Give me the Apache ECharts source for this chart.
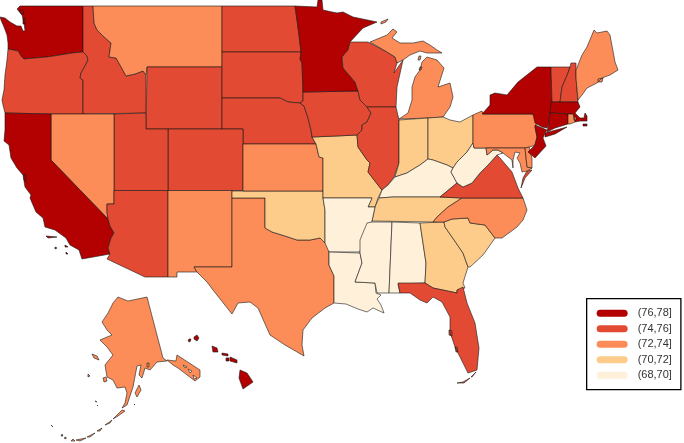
<!DOCTYPE html>
<html><head><meta charset="utf-8">
<style>html,body{margin:0;padding:0;background:#fff}#c{width:684px;height:443px}</style>
<script src="https://cdn.jsdelivr.net/npm/echarts@6/dist/echarts.min.js"></script>
</head><body><div id="c"></div>
<script>
// Chart values: each state's value is the midpoint of the bin its colour shows
const bin76to78 = ['Washington','California','Minnesota','New York','New Jersey','Massachusetts','Connecticut','Hawaii'];
const bin74to76 = ['Oregon','Idaho','Wyoming','Utah','Colorado','Arizona','North Dakota','South Dakota','Nebraska','Iowa','Wisconsin','Illinois','Virginia','Vermont','New Hampshire','Florida'];
const bin72to74 = ['Montana','Nevada','New Mexico','Texas','Kansas','Michigan','Pennsylvania','Maryland','Delaware','North Carolina','Maine','Rhode Island','Alaska'];
const bin70to72 = ['Missouri','Oklahoma','Indiana','Ohio','Georgia','South Carolina','Tennessee'];
const bin68to70 = ['Arkansas','Louisiana','Mississippi','Alabama','Kentucky','West Virginia'];
const binValues = [77, 75, 73, 71, 69];
const binLabels = ['(76,78]','(74,76]','(72,74]','(70,72]','(68,70]'];
const binMins = [76, 74, 72, 70, 68];
const binMaxs = [78, 76, 74, 72, 70];
const binColors = ['#b30000','#e34a33','#fc8d59','#fdcc8a','#fef0d9'];

// Map geometry (outline rings of each state), in the picture's own plane
const shapes = {
Washington:[[[20,6],[83,6],[83,52],[72,53],[60,55],[47,57],[35,58],[24,59],[21,56],[18,51],[8,49],[8,43],[7,35],[4,27],[1,20],[0,17],[5,18],[10,22],[17,26],[21,26],[23,31],[25,31],[24,22],[22,15],[17,9]],[[19,10],[23,10],[24,14],[21,14]],[[23,18],[25,18],[25,24],[23,24]]],
Oregon:[[[8,49],[18,51],[21,56],[24,59],[35,58],[47,57],[60,55],[72,53],[83,52],[87,56],[88,60],[85,66],[81,73],[80,78],[83,80],[83,114],[50,114],[5,113],[3,105],[2,100],[4,90],[5,75],[7,60]]],
Idaho:[[[83,6],[93,6],[94,23],[97,30],[103,36],[111,43],[109,57],[116,58],[120,65],[126,76],[135,74],[143,71],[146,75],[146,113],[83,114],[83,80],[80,78],[81,73],[85,66],[88,60],[87,56],[83,52]]],
Montana:[[[93,6],[222,6],[222,67],[147,67],[146,75],[143,71],[135,74],[126,76],[120,65],[116,58],[109,57],[111,43],[103,36],[97,30],[94,23]]],
Wyoming:[[[147,67],[222,67],[222,129],[146,129]]],
'North Dakota':[[[222,6],[295,6],[297,20],[299,35],[301,52],[222,52]]],
'South Dakota':[[[222,52],[301,52],[300,59],[302,63],[303,92],[303,101],[300,103],[288,102],[280,98],[222,98]]],
Nebraska:[[[222,98],[280,98],[288,102],[300,103],[304,106],[308,118],[311,130],[312,137],[316,144],[243,144],[243,129],[222,129]]],
Colorado:[[[168,129],[243,129],[243,190.5],[168,190.5]]],
Utah:[[[114,114],[146,113],[146,129],[168,129],[168,190.5],[114,190.5]]],
Nevada:[[[51,114],[114,114],[114,204],[107,204],[107,212],[108,219],[51,160]]],
California:[[[5,113],[51,114],[51,160],[108,219],[110,226],[114,233],[111,238],[108,248],[110,254],[82,259],[79,250],[70,245],[66,238],[55,230],[45,227],[43,218],[36,212],[30,198],[31,195],[25,187],[23,175],[17,168],[11,158],[9,145],[4,141],[5,130]],[[46,236],[57,237],[48,238]],[[55,247],[57,248],[55,249]],[[65,245],[68,247],[65,247]],[[66,252],[68,254],[66,254]],[[24,174],[26,175],[26,182],[24,180]]],
Arizona:[[[114,190.5],[168,190.5],[168,277],[145,277],[107,259],[110,254],[108,248],[111,238],[114,233],[110,226],[108,219],[107,212],[107,204],[114,204]]],
'New Mexico':[[[168,190.5],[232,190.5],[232,267],[194,267],[197,272],[177,272],[177,277],[168,277]]],
Texas:[[[232,198],[265,198],[265,228],[272,232],[285,236],[297,240],[310,240],[320,238],[329,243],[329,252],[329,265],[334,276],[334,290],[334,303],[325,308],[312,318],[303,330],[302,345],[304,356],[285,345],[270,335],[258,308],[250,302],[238,303],[232,314],[213,290],[207,282],[197,272],[194,267],[232,267]]],
Oklahoma:[[[232,191],[323,191],[323,198],[325,210],[325,243],[320,238],[310,240],[297,240],[285,236],[272,232],[265,228],[265,198],[232,198]]],
Kansas:[[[243,144],[316,144],[317,148],[319,157],[323,158],[323,191],[243,191]]],
Missouri:[[[312,137],[336,136],[357,135],[358,147],[367,160],[370,163],[368,172],[378,185],[382,190],[378,198],[375,207],[368,207],[372,198],[323,198],[323,158],[319,157],[317,148],[316,144]]],
Iowa:[[[303,92],[358,91],[360,100],[367,107],[371,113],[367,122],[362,125],[362,130],[357,135],[336,136],[312,137],[311,130],[308,118],[304,106],[300,103],[303,101]]],
Minnesota:[[[295,6],[317,7],[318,0],[322,0],[323,10],[332,12],[337,13],[343,12],[353,17],[377,22],[363,28],[350,42],[348,50],[342,57],[343,68],[355,82],[358,91],[303,92],[302,63],[300,59],[301,52],[299,35],[297,20]]],
Wisconsin:[[[350,42],[363,42],[368,42],[387,52],[395,57],[397,63],[394,73],[403,60],[397,87],[396,107],[367,107],[360,100],[358,91],[355,82],[343,68],[342,57],[348,50]]],
Michigan:[[[370,42],[387,35],[393,29],[397,32],[392,38],[400,43],[413,43],[423,41],[430,45],[437,50],[442,53],[427,53],[420,51],[410,55],[403,60],[397,63],[395,57],[387,52]],[[427,57],[437,60],[444,68],[438,87],[450,83],[453,97],[450,107],[443,117],[428,118],[399,119],[408,113],[412,100],[412,87],[415,77],[420,70],[422,62]],[[381,22],[388,19],[386,22],[381,24]],[[419,56],[421,56],[420,60],[418,60]],[[420,67],[422,67],[421,70],[419,70]]],
Illinois:[[[367,107],[396,107],[399,120],[399,163],[394,177],[388,185],[382,190],[378,185],[368,172],[370,163],[367,160],[358,147],[357,135],[362,130],[362,125],[367,122],[371,113]]],
Indiana:[[[399,120],[428,118],[428,159],[420,165],[415,168],[407,173],[395,177],[399,163]]],
Ohio:[[[428,118],[443,117],[450,120],[460,122],[473,115],[473,143],[467,152],[457,162],[453,168],[447,165],[433,160],[428,159]]],
Kentucky:[[[382,190],[388,185],[395,177],[407,173],[415,168],[420,165],[428,159],[433,160],[447,165],[453,168],[451,172],[457,183],[440,197],[417,197],[393,197],[379,198]]],
Tennessee:[[[379,198],[393,197],[417,197],[440,197],[462,198],[448,207],[437,217],[433,222],[372,221],[375,207]]],
Arkansas:[[[323,198],[372,198],[368,207],[375,207],[372,221],[365,232],[362,240],[360,252],[329,252],[325,243],[325,210]]],
Louisiana:[[[329,252],[360,253],[362,263],[355,282],[375,283],[376,293],[381,295],[377,299],[381,305],[384,313],[373,308],[367,312],[358,309],[346,304],[334,303],[334,290],[334,276],[329,265]]],
Mississippi:[[[372,222],[392,222],[389,293],[377,293],[375,283],[355,282],[362,263],[360,253],[360,240],[367,223]]],
Alabama:[[[392,222],[420,223],[426,263],[425,283],[398,284],[400,293],[393,293],[389,293]]],
Georgia:[[[420,223],[444,222],[445,227],[452,237],[463,253],[468,267],[463,283],[465,288],[457,290],[457,293],[433,288],[425,283],[426,263]]],
'South Carolina':[[[444,222],[452,219],[468,218],[470,223],[485,225],[495,238],[488,248],[483,255],[470,267],[468,267],[463,253],[452,237],[445,227]]],
'North Carolina':[[[433,222],[437,217],[448,207],[462,198],[523,198],[527,210],[523,220],[517,227],[502,238],[495,238],[485,225],[470,223],[468,218],[452,219],[444,222]]],
Virginia:[[[440,197],[457,183],[463,187],[472,183],[480,173],[488,165],[497,155],[500,158],[512,172],[518,188],[523,198],[462,198]],[[527,171],[532,170],[525,178],[521,188],[523,178]]],
'West Virginia':[[[451,172],[453,168],[457,162],[467,152],[473,143],[474,148],[486,148],[487,155],[493,150],[498,150],[503,153],[497,155],[488,165],[480,173],[472,183],[463,187],[457,183]]],
Pennsylvania:[[[473,115],[482,111],[483,114],[533,114],[537,123],[535,127],[537,137],[535,145],[530,147],[525,148],[474,148],[473,143]]],
Maryland:[[[486,148],[525,148],[527,167],[532,168],[527,171],[522,172],[520,163],[517,158],[520,153],[515,152],[513,160],[513,168],[512,160],[503,153],[498,150],[493,150],[487,155]]],
Delaware:[[[525,148],[529,147],[532,158],[532,168],[527,167]]],
'New York':[[[482,114],[490,105],[490,95],[495,93],[507,95],[518,82],[537,67],[551,67],[552,102],[550,113],[549,122],[547,128],[542,127],[535,123],[533,114],[483,114]],[[545,133],[567,127],[555,134],[545,137]]],
'New Jersey':[[[535,125],[547,130],[545,133],[543,138],[546,146],[535,158],[528,152],[535,145],[537,137],[535,127]]],
Vermont:[[[551,67],[570,67],[568,73],[562,87],[560,102],[552,102]]],
'New Hampshire':[[[571,63],[576,63],[576,77],[578,102],[560,102],[562,87],[568,73],[570,67]]],
Maine:[[[576,70],[582,55],[587,47],[594,30],[597,33],[607,31],[610,35],[615,62],[618,70],[610,75],[602,78],[597,83],[587,88],[582,95],[578,100],[576,78]],[[598,79],[603,78],[602,82],[598,82]]],
Massachusetts:[[[551,102],[578,102],[580,107],[575,113],[580,118],[584,118],[585,113],[587,116],[587,121],[580,121],[575,122],[573,114],[568,114],[550,113]],[[583,124],[587,124],[587,126],[583,126]]],
Connecticut:[[[550,113],[568,114],[568,124],[555,128],[547,132],[549,122]]],
'Rhode Island':[[[568,114],[573,114],[575,122],[570,124],[568,124]],[[574,117],[576,117],[576,120],[574,120]]],
Florida:[[[398,283],[425,283],[433,288],[457,293],[457,290],[463,287],[467,303],[475,323],[479,348],[477,370],[468,373],[460,357],[455,347],[450,332],[450,317],[442,302],[433,297],[427,303],[420,300],[410,293],[400,293]],[[457,383],[463,382],[470,378],[464,383]],[[471,377],[476,372],[472,377]],[[449,330],[452,331],[452,336],[449,335]],[[455,347],[457,347],[458,352],[456,352]]],
Alaska:[[[118,297],[128,301],[147,297],[163,358],[167,361],[157,362],[150,370],[145,368],[142,378],[139,375],[141,365],[137,366],[133,387],[127,405],[122,408],[125,403],[127,393],[125,387],[117,388],[113,380],[107,377],[105,365],[113,355],[107,347],[100,340],[112,335],[107,330],[102,322],[108,313],[113,303]],[[167,360],[173,365],[178,368],[195,381],[200,377],[200,370],[177,355],[176,361]],[[139,385],[141,390],[137,397],[135,393]],[[103,378],[106,377],[107,381],[104,382]],[[92,354],[97,356],[99,360],[94,358]],[[147,363],[149,363],[149,367],[147,367]],[[183,365],[187,367],[185,368]],[[188,369],[192,371],[190,373]],[[193,375],[197,378],[194,379]],[[122,410],[125,411],[118,416],[113,419]],[[112,420],[108,423],[105,425],[110,423]],[[102,428],[97,431],[100,431]],[[95,433],[87,437],[90,437]],[[86,438],[76,440],[80,441]],[[73,439],[75,441],[71,441]],[[66,437],[64,438],[66,439]],[[62,434],[63,436],[61,436]],[[51,425],[53,427],[52,428]],[[88,374],[90,376],[88,377]],[[95,401],[97,402],[96,403]],[[97,405],[98,406],[97,406]],[[134,404],[135,405],[134,405]]],
Hawaii:[[[240,370],[247,373],[253,382],[243,389],[239,378]],[[230,357],[237,360],[237,363],[230,361]],[[222,353],[228,354],[228,356],[222,355]],[[212,346],[217,348],[218,352],[213,352]],[[194,337],[197,335],[199,338],[197,341],[194,339]],[[189,339],[191,339],[190,342],[188,341]],[[226,358],[229,358],[229,361],[226,361]]]
};

const groups = [bin76to78, bin74to76, bin72to74, bin70to72, bin68to70];
const seriesData = [];
groups.forEach((names, i) => names.forEach(name => seriesData.push({ name, value: binValues[i] })));

const features = Object.keys(shapes).map(name => ({
  type: 'Feature',
  properties: { name },
  geometry: { type: 'MultiPolygon', coordinates: shapes[name].map(r => [r.concat([r[0]])]) }
}));
echarts.registerMap('us', { type: 'FeatureCollection', features });

const chart = echarts.init(document.getElementById('c'), null, { renderer: 'canvas' });
const identity = { project: p => p, unproject: p => p };
chart.setOption({
  animation: false,
  backgroundColor: '#ffffff',
  visualMap: {
    type: 'piecewise',
    seriesIndex: 0,
    left: 586, top: 298,
    padding: [9, 9, 9, 10],
    orient: 'vertical',
    align: 'left',
    itemWidth: 31, itemHeight: 7, itemGap: 4.5, textGap: 10,
    itemSymbol: 'path://M3.5 0H27.5A3.5 3.5 0 0 1 27.5 7H3.5A3.5 3.5 0 0 1 3.5 0Z',
    borderColor: '#000', borderWidth: 1.3,
    backgroundColor: '#fff',
    selectedMode: false,
    hoverLink: false,
    textStyle: { fontFamily: 'Liberation Sans', fontSize: 11, color: '#333' },
    pieces: binLabels.map((label, i) => ({ min: binMins[i], max: binMaxs[i], label, color: binColors[i] }))
  },
  series: [{
    type: 'map',
    map: 'us',
    projection: identity,
    boundingCoords: [[0, 0], [684, 443]],
    left: 0, top: 0, width: 684, height: 443,
    roam: false,
    silent: true,
    label: { show: false },
    itemStyle: { borderColor: '#1a1a1a', borderWidth: 0.6, areaColor: '#fff' },
    emphasis: { disabled: true },
    select: { disabled: true },
    data: seriesData
  }]
});
</script></body></html>
